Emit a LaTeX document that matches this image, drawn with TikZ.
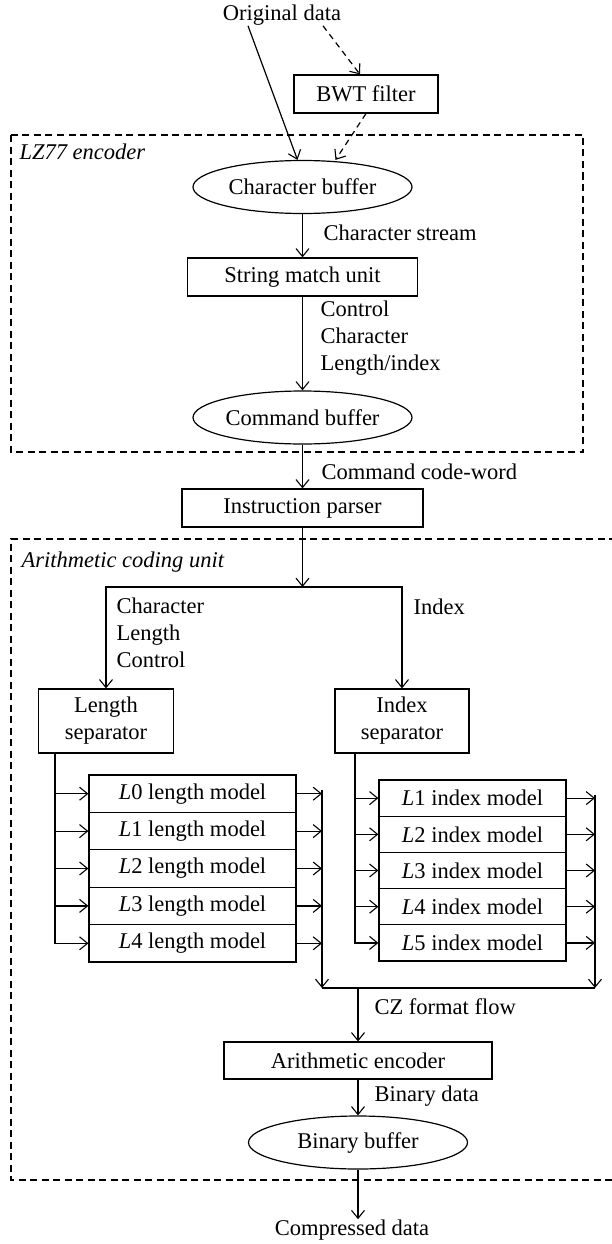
\documentclass[tikz,border=0pt]{standalone}
\usepackage{fontspec}
\setmainfont{Liberation Serif}
\usetikzlibrary{arrows.meta,calc,shapes.geometric}
\begin{document}
\begin{tikzpicture}[x=1pt,y=-1pt,
  every node/.style={font=\fontsize{22.5}{27}\selectfont},
  line width=1.2pt,
  tip/.tip={Straight Barb[length=8pt,width=13pt,line width=1.1pt]},
  arr/.style={-tip},
  dasharr/.style={-tip, dash pattern=on 6pt off 4.5pt},
  box/.style={draw, rectangle, inner sep=0pt, minimum height=38pt},
  ell/.style={draw, ellipse, inner sep=0pt, minimum width=219pt, minimum height=53pt},
  frame/.style={dash pattern=on 7pt off 4.5pt},
  lbl/.style={anchor=west, align=left, inner sep=0pt},
  lrow/.style={box, minimum width=207pt, minimum height=37.4pt},
  irow/.style={box, minimum width=187pt, minimum height=36.2pt},
]
\fill[white] (0,0) rectangle (612,1244);
\useasboundingbox (0,0) rectangle (612,1244);

% frames
\draw[frame] (11,135) rectangle (583,452);
\draw[frame] (616,539) -- (11,539) -- (11,1180) -- (616,1180);
\node[lbl, font=\fontsize{22.5}{27}\selectfont\itshape] (lzlbl) at (19,152) {LZ77 encoder};
\node[lbl, font=\fontsize{22.5}{27}\selectfont\itshape] (aclbl) at (21,562) {Arithmetic coding unit};

% main column
\node[inner sep=0pt] (orig) at (282,15) {Original data};
\node[box, minimum width=144pt] (bwt) at (366,94) {BWT filter};
\node[ell] (charbuf) at (302.5,187) {Character buffer};
\node[box, minimum width=230pt] (sm) at (302.5,277) {String match unit};
\node[ell] (cmdbuf) at (302.5,417.5) {Command buffer};
\node[box, minimum width=241pt] (ip) at (302.5,508) {Instruction parser};
\coordinate (split) at (302.5,587);
\node[box, minimum width=135pt, minimum height=64pt, align=center] (ls) at (106,721) {Length\\separator};
\node[box, minimum width=134pt, minimum height=64pt, align=center] (is) at (402,721) {Index\\separator};

% length models
\node[lrow] (l0) at (192.5,793.7) {\textit{L}0 length model};
\node[lrow] (l1) at (192.5,831.1) {\textit{L}1 length model};
\node[lrow] (l2) at (192.5,868.5) {\textit{L}2 length model};
\node[lrow] (l3) at (192.5,905.9) {\textit{L}3 length model};
\node[lrow] (l4) at (192.5,943.3) {\textit{L}4 length model};

% index models
\node[irow] (i1) at (472.5,798.1) {\textit{L}1 index model};
\node[irow] (i2) at (472.5,834.3) {\textit{L}2 index model};
\node[irow] (i3) at (472.5,870.5) {\textit{L}3 index model};
\node[irow] (i4) at (472.5,906.7) {\textit{L}4 index model};
\node[irow] (i5) at (472.5,942.9) {\textit{L}5 index model};

\node[box, minimum width=268pt, minimum height=37pt] (ae) at (358,1060.5) {Arithmetic encoder};
\node[ell] (bb) at (358,1142.5) {Binary buffer};
\node[inner sep=0pt] (comp) at (352,1230) {Compressed data};

% top connectors
\draw[arr] ([xshift=-34pt]orig.south) -- ([xshift=-5pt]charbuf.north);
\draw[dasharr] ([xshift=41pt]orig.south) -- ([xshift=-6pt]bwt.north);
\draw[dasharr] (bwt.south) -- ([xshift=33pt]charbuf.north);
\draw[arr] (charbuf) -- (sm);
\draw[arr] (sm) -- (cmdbuf);
\draw[arr] (cmdbuf) -- (ip);
\draw[arr] (ip) -- (split);
\draw[tip-tip] (ls.north) |- (split) -| (is.north);

% feeds
\coordinate (lf) at (55,753);
\draw[arr] (lf) |- (l4.west);
\foreach \n in {l0,l1,l2,l3} \draw[arr] (lf |- \n.west) -- (\n.west);
\coordinate (if) at (355,753);
\draw[arr] (if) |- (i5.west);
\foreach \n in {i1,i2,i3,i4} \draw[arr] (if |- \n.west) -- (\n.west);

% collectors
\coordinate (merge) at (358,988);
\coordinate (lc) at (322,790);
\coordinate (rc) at (595,795);
\draw[arr] (lc) -- (lc |- merge);
\draw[arr] (rc) -- (rc |- merge);
\draw (lc |- merge) -- (rc |- merge);
\foreach \n in {l0,l1,l2,l3,l4} \draw[arr] (\n.east) -- (lc |- \n.east);
\foreach \n in {i1,i2,i3,i4,i5} \draw[arr] (\n.east) -- (rc |- \n.east);
\draw[arr] (merge) -- (ae.north);
\draw[arr] (ae) -- (bb);
\draw[arr] (bb.south) -- (bb.south |- comp.north);

% labels
\node[lbl] (t1) at (323,233) {Character stream};
\node[lbl] (t2) at (320,338) {Control\\Character\\Length/index};
\node[lbl] (t3) at (321,472) {Command code-word};
\node[lbl] (t4) at (116,633) {Character\\Length\\Control};
\node[lbl] (t5) at (413,607) {Index};
\node[lbl] (t6) at (374,1007) {CZ format flow};
\node[lbl] (t7) at (374,1096) {Binary data};
\end{tikzpicture}
\end{document}
